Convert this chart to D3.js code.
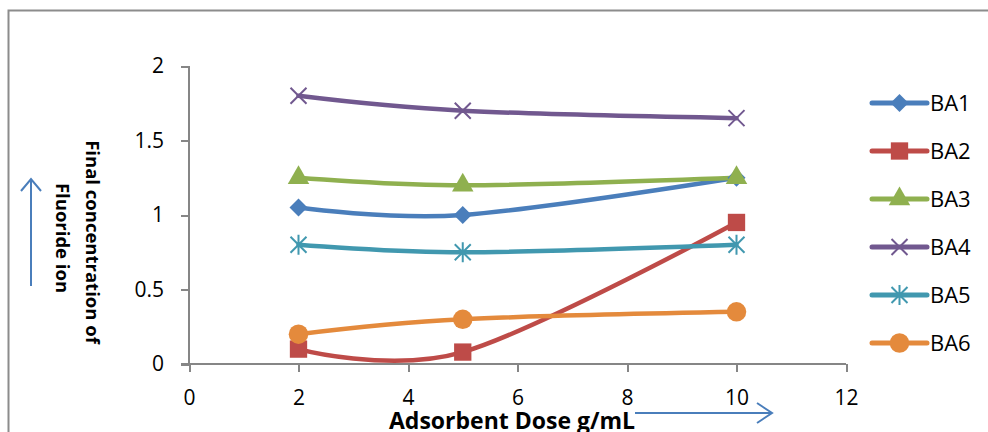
<!DOCTYPE html>
<head>
<meta charset="utf-8">
<script src="https://d3js.org/d3.v7.min.js"></script>
<style>
  body { margin: 0; background: #fff; }
  svg { display: block; font-family: "Open Sans", Lato, sans-serif; }
  .axis path, .axis line { stroke: #868686; stroke-width: 2; shape-rendering: crispEdges; }
</style>
</head>
<body>
<div id="my_dataviz"></div>
<script>
// data
var doses = [2, 5, 10];
var seriesNames = ["BA1", "BA2", "BA3", "BA4", "BA5", "BA6"];
var BA1 = [1.05, 1.0, 1.25];
var BA2 = [0.1, 0.08, 0.95];
var BA3 = [1.25, 1.2, 1.25];
var BA4 = [1.8, 1.7, 1.65];
var BA5 = [0.8, 0.75, 0.8];
var BA6 = [0.2, 0.3, 0.35];
var xTicks = [0, 2, 4, 6, 8, 10, 12];
var yTicks = [0, 0.5, 1, 1.5, 2];

var colors = ["#4A7EBB", "#BE4B48", "#8FB04F", "#71588F", "#4198AF", "#E48A3C"];
var markers = ["diamond", "square", "triangle", "x", "star", "circle"];
var allValues = [BA1, BA2, BA3, BA4, BA5, BA6];

var width = 988, height = 432;
var svg = d3.select("#my_dataviz").append("svg")
    .attr("width", width).attr("height", height);

// chart area border (runs past the right and bottom edges)
svg.append("rect")
    .attr("x", 8.5).attr("y", 10.5)
    .attr("width", 1000).attr("height", 500)
    .attr("fill", "none").attr("stroke", "#8c8c8c").attr("stroke-width", 2);

var x = d3.scaleLinear().domain([0, 12]).range([189, 846]);
var y = d3.scaleLinear().domain([0, 2]).range([364, 66]);

svg.append("g").attr("class", "axis")
    .attr("transform", "translate(0," + y(0) + ")")
    .call(d3.axisBottom(x).tickValues(xTicks).tickSize(8).tickPadding(18).tickFormat(d3.format("d")))
    .call(function(g) { g.select(".domain").attr("d", "M" + (x(0) - 8) + ",0H" + x(12)); });

svg.append("g").attr("class", "axis")
    .attr("transform", "translate(" + x(0) + ",0)")
    .call(d3.axisLeft(y).tickValues(yTicks).tickSize(8).tickPadding(17).tickFormat(function(d) { return d; }))
    .call(function(g) { g.select(".domain").attr("d", "M0," + y(2) + "V" + y(0)); });

svg.selectAll(".axis text").attr("fill", "#000").style("font-size", "21px").style("font-family", "'Open Sans', sans-serif");

function markerPath(type) {
  if (type == "diamond") return "M0,-9L9,0L0,9L-9,0Z";
  if (type == "square") return d3.symbol().type(d3.symbolSquare).size(300)();
  if (type == "triangle") return d3.symbol().type(d3.symbolTriangle).size(200)();
  if (type == "circle") return d3.symbol().type(d3.symbolCircle).size(300)();
  if (type == "x") return "M-8,-8L8,8M-8,8L8,-8";
  if (type == "star") return "M-8,-8L8,8M-8,8L8,-8M0,-10V10";
}

var line = d3.line()
    .x(function(d) { return x(d[0]); })
    .y(function(d) { return y(d[1]); })
    .curve(d3.curveCardinal.tension(0));

allValues.forEach(function(vals, i) {
  var pts = doses.map(function(d, j) { return [d, vals[j]]; });
  svg.append("path")
      .attr("d", line(pts))
      .attr("fill", "none")
      .attr("stroke", colors[i])
      .attr("stroke-width", 4.5)
      .attr("stroke-linecap", "round");
});

allValues.forEach(function(vals, i) {
  var pts = doses.map(function(d, j) { return [d, vals[j]]; });
  var open = markers[i] == "x" || markers[i] == "star";
  svg.append("g").selectAll("path")
    .data(pts)
    .enter()
    .append("path")
      .attr("transform", function(d) { return "translate(" + x(d[0]) + "," + y(d[1]) + ")"; })
      .attr("d", markerPath(markers[i]))
      .attr("fill", open ? "none" : colors[i])
      .attr("stroke", colors[i])
      .attr("stroke-width", open ? 2 : 0);
});

// legend
var legend = svg.append("g").selectAll("g")
  .data(seriesNames)
  .enter()
  .append("g")
    .attr("transform", function(d, i) { return "translate(872," + (103 + i * 48) + ")"; });

legend.append("line")
    .attr("x1", 0).attr("x2", 55)
    .attr("stroke", function(d, i) { return colors[i]; })
    .attr("stroke-width", 5)
    .attr("stroke-linecap", "round");
legend.append("path")
    .attr("transform", "translate(27.5,0)")
    .attr("d", function(d, i) { return markerPath(markers[i]); })
    .attr("fill", function(d, i) { return (markers[i] == "x" || markers[i] == "star") ? "none" : colors[i]; })
    .attr("stroke", function(d, i) { return colors[i]; })
    .attr("stroke-width", function(d, i) { return (markers[i] == "x" || markers[i] == "star") ? 2 : 0; });
legend.append("text")
    .attr("x", 58).attr("dy", "0.36em")
    .style("font-size", "22px")
    .text(function(d) { return d; });

// axis titles
svg.append("text")
    .attr("x", 512).attr("y", 429)
    .style("text-anchor", "middle")
    .style("font-size", "23px").style("font-weight", "bold")
    .text("Adsorbent Dose g/mL");

svg.append("text")
    .attr("transform", "translate(86,242) rotate(90)")
    .style("text-anchor", "middle")
    .style("font-size", "18.5px").style("font-weight", "bold")
    .text("Final concentration of");
svg.append("text")
    .attr("transform", "translate(56,238) rotate(90)")
    .style("text-anchor", "middle")
    .style("font-size", "18.5px").style("font-weight", "bold")
    .text("Fluoride ion");

// arrows
var arrowColor = "#4A7EBB";
svg.append("path")
    .attr("d", "M31,286V179M21,191L31,179L41,191")
    .attr("fill", "none").attr("stroke", arrowColor).attr("stroke-width", 2);
svg.append("path")
    .attr("d", "M635,413H772M757,403L772,413L757,423")
    .attr("fill", "none").attr("stroke", arrowColor).attr("stroke-width", 2);
</script>
</body>
